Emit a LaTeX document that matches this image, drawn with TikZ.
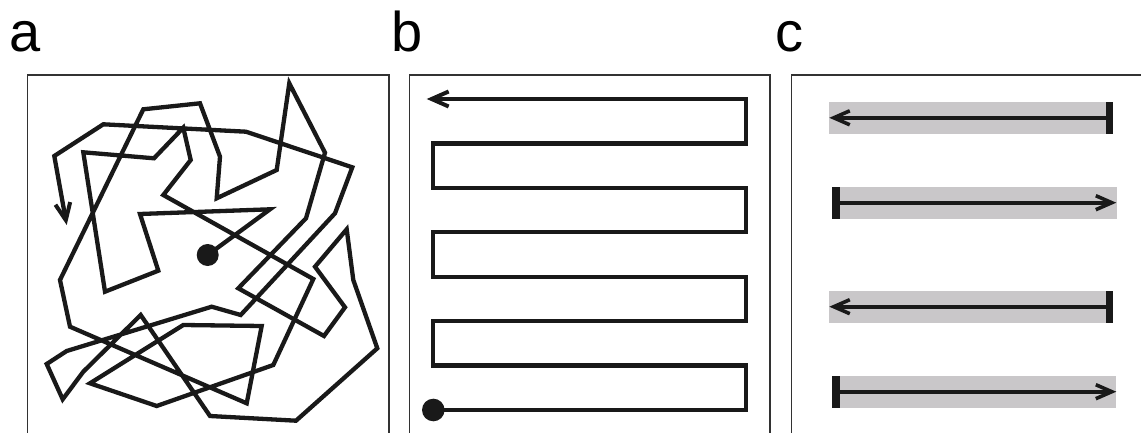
\documentclass[tikz,border=0pt]{standalone}
\usepackage{fontspec}
\setmainfont{Liberation Sans}
\usetikzlibrary{arrows.meta}
\definecolor{bargray}{RGB}{201,199,201}
\definecolor{framegray}{RGB}{50,50,50}
\tikzset{
  frame/.style={draw=framegray, line width=1.5pt},
  walk/.style={draw=black!90, line width=4.3pt, line join=miter, miter limit=10},
  tip/.style={-{Straight Barb[length=17pt,width=15pt,line width=4pt]}},
  dotmark/.style={fill=black!90},
  bar/.style={fill=bargray},
  tbar/.style={fill=black!90},
  ray/.style={draw=black!90, line width=3.6pt, -{Straight Barb[length=16pt,width=14pt,line width=3.6pt]}},
  panellabel/.style={anchor=base west, inner sep=0pt, font=\fontsize{56}{60}\selectfont}
}
\begin{document}
\begin{tikzpicture}[x=1pt,y=-1pt]
\useasboundingbox (0,0) rectangle (1141,433);
\begin{scope}
\clip (0,0) rectangle (1141,433);
% frames (cut off at the bottom / right)
\draw[frame] (27.3,460) -- (27.3,75) -- (389,75) -- (389,460);
\draw[frame] (409.3,460) -- (409.3,75) -- (770,75) -- (770,460);
\draw[frame] (791.7,460) -- (791.7,75) -- (1160,75);

% labels
\node[panellabel] (la) at (9.6,51.7) {a};
\node[panellabel] (lb) at (391.3,51.7) {b};
\node[panellabel] (lc) at (774.8,51.7) {c};

% panel a: random walk
\coordinate (A) at (207.7,255);
\draw[walk, tip] (A) -- (270,209.3) -- (140,214) -- (158.3,270.7) -- (105,291.7)
  -- (83.3,152.3) -- (154,158.3) -- (183.3,127.7) -- (190.7,160) -- (163.3,195)
  -- (313.3,279) -- (273.3,365) -- (156.7,406) -- (90,383.3) -- (183.3,325)
  -- (261.7,326) -- (246.7,403.3) -- (70,326.7) -- (60,280) -- (143.3,109.3)
  -- (200,103.3) -- (220,156.7) -- (216.7,198.3) -- (276.7,170) -- (289.3,83.3)
  -- (325,152.7) -- (306,218.3) -- (238.3,288.3) -- (324,336) -- (345,307.3)
  -- (315,266.7) -- (346.7,229.3) -- (353.3,280) -- (377.3,348.3) -- (296,420.7)
  -- (210,416) -- (140.7,315) -- (83.3,371.7) -- (62.7,399.3) -- (46.7,364)
  -- (66.7,351) -- (211.7,306.7) -- (240.7,315) -- (335,213.3) -- (352.3,167.3)
  -- (246,131.7) -- (103.3,124.3) -- (54.3,156) -- (66.7,225);
\fill[dotmark] (A) circle (11pt);

% panel b: meander
\coordinate (B0) at (433.3,410);
\draw[walk, tip] (B0) -- (746,410) -- (746,365.6) -- (433.3,365.6)
  -- (433.3,321.1) -- (746,321.1) -- (746,276.7) -- (433.3,276.7)
  -- (433.3,232.3) -- (746,232.3) -- (746,187.9) -- (433.3,187.9)
  -- (433.3,143.4) -- (746,143.4) -- (746,99) -- (426.7,99);
\fill[dotmark] (B0) circle (11.3pt);

% panel c: bars with directed rays
\fill[bar] (829.3,101.7) rectangle (1113.3,134);
\fill[bar] (831.7,186.7) rectangle (1116.7,218.7);
\fill[bar] (829.3,290.7) rectangle (1113.3,322.7);
\fill[bar] (831.7,375.7) rectangle (1116.3,407.7);

\coordinate (c1s) at (1109.5,117.8); \coordinate (c1e) at (829.3,117.8);
\coordinate (c2s) at (835.5,202.7);  \coordinate (c2e) at (1116.3,202.7);
\coordinate (c3s) at (1109.5,306.7); \coordinate (c3e) at (829.3,306.7);
\coordinate (c4s) at (835.5,391.7);  \coordinate (c4e) at (1116.3,391.7);
\draw[ray] (c1s) -- (c1e);
\draw[ray] (c2s) -- (c2e);
\draw[ray] (c3s) -- (c3e);
\draw[ray] (c4s) -- (c4e);
\fill[tbar] (1105.5,101.7) rectangle (1113.3,134);
\fill[tbar] (831.7,186.7) rectangle (839.5,218.7);
\fill[tbar] (1105.5,290.7) rectangle (1113.3,322.7);
\fill[tbar] (831.7,375.7) rectangle (839.5,407.7);
\end{scope}
\end{tikzpicture}
\end{document}
